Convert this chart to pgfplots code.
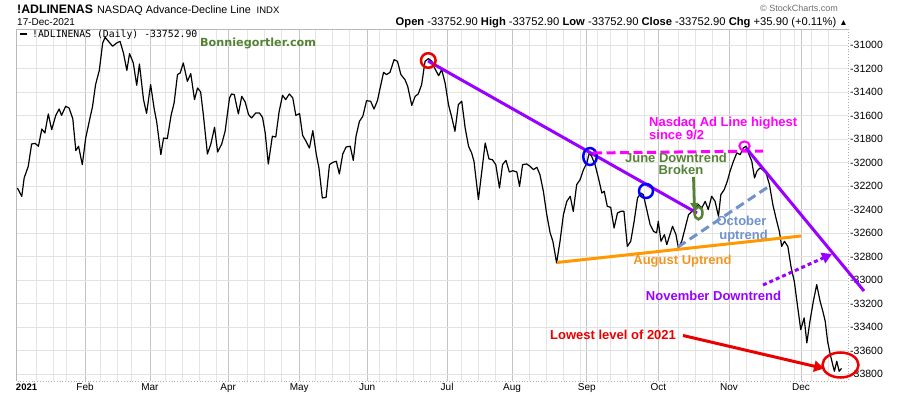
\documentclass[border=0pt]{standalone}
\usepackage{pgfplots}
\pgfplotsset{compat=1.18}
\usepackage{fontspec}
\setmainfont{Liberation Sans}
\newfontfamily\dejavu{DejaVu Sans}
\newfontfamily\monof{DejaVu Sans Mono}
\usetikzlibrary{arrows.meta}
\definecolor{vio}{RGB}{153,0,255}
\definecolor{mag}{RGB}{255,0,255}
\definecolor{grn}{RGB}{84,130,53}
\definecolor{sblue}{RGB}{112,146,205}
\definecolor{orng}{RGB}{255,153,0}
\definecolor{orngt}{RGB}{240,150,30}
\definecolor{rd}{RGB}{235,0,0}
\definecolor{majg}{RGB}{196,196,196}
\definecolor{ming}{RGB}{228,228,228}
\definecolor{ygrid}{RGB}{226,226,226}

\pgfplotstableread{
x y
-0.5 -32217
0.8 -32288
1.5 -32132
2.7 -32033
3.7 -31843
4.7 -31837
5.7 -31862
6.7 -31715
7.6 -31749
8.6 -31587
9.6 -31721
10.8 -31599
11.8 -31545
12.5 -31599
13.7 -31522
14.7 -31536
15.8 -31627
16.7 -31899
17.5 -31862
18.6 -32018
19.6 -31792
20.9 -31616
21.6 -31525
22.5 -31338
23.6 -31216
24.6 -30983
25.3 -30935
26.3 -30969
27.5 -31011
28.7 -30983
29.7 -30969
30.7 -31068
31.7 -31216
32.5 -31074
33.6 -31153
34.6 -31343
35.4 -31162
36.6 -31465
37.5 -31582
38.7 -31338
39.7 -31536
40.5 -31658
41.7 -31933
42.5 -31792
43.6 -31797
44.7 -31601
45.6 -31494
46.6 -31252
47.4 -31238
48.3 -31153
49.5 -31309
50.5 -31244
51.6 -31465
52.5 -31366
53.4 -31400
54.2 -31593
55.4 -31928
56.4 -31843
57.5 -31701
58.4 -31911
59.6 -31843
60.6 -31735
61.9 -31451
62.5 -31417
63.3 -31423
64.5 -31587
65.5 -31437
66.5 -31485
67.5 -31593
68.4 -31621
69.6 -31579
70.7 -31579
71.6 -31616
72.4 -31749
73.3 -32013
74.5 -31777
75.5 -31783
76.5 -31565
77.5 -31428
78.4 -31465
79.5 -31417
80.5 -31451
81.4 -31599
82.5 -31584
83.4 -31769
84.4 -31820
85.4 -31877
86.4 -31729
87.4 -31928
88.2 -32047
89.2 -32302
90.3 -32297
91.3 -32018
92.3 -31999
93.3 -31990
94.2 -32098
95.2 -31928
96.2 -31868
97.4 -31862
98.3 -31982
99.1 -31777
100.1 -31650
101.1 -31607
102.2 -31474
103.4 -31479
104.4 -31545
105.4 -31474
106.2 -31366
107.2 -31233
108.1 -31252
109.1 -31233
110.3 -31125
111.3 -31139
112.3 -31252
113.5 -31295
114.3 -31352
115.5 -31514
116.5 -31437
117.4 -31417
118.4 -31338
119.4 -31139
120.4 -31116
121.4 -31139
122.2 -31196
123.4 -31261
124.3 -31210
125.3 -31323
126.3 -31508
127.3 -31621
128.2 -31735
129.2 -31508
130.2 -31479
131.2 -31706
132.2 -31862
133.1 -31919
133.8 -31990
135.1 -32316
136.1 -32075
137.1 -31834
138.2 -31970
139.2 -31976
140.2 -32018
141.3 -32217
142.2 -32018
143.2 -31982
144.2 -32081
145.2 -32070
146.4 -32081
147.2 -32203
148.1 -32018
149.3 -32013
150.3 -32033
151.3 -32061
152.3 -32041
153.2 -32104
154.2 -32245
155.2 -32444
156.2 -32600
157.0 -32671
158.1 -32855
159.1 -32671
160.1 -32444
161.1 -32331
162.1 -32288
163.0 -32416
164.0 -32189
165.0 -32146
166.0 -32061
167.0 -32004
167.7 -31919
168.4 -31948
169.4 -32018
170.4 -32132
171.4 -32260
172.1 -32245
173.0 -32373
174.0 -32382
175.0 -32558
176.0 -32430
177.0 -32416
177.9 -32416
178.9 -32714
179.9 -32671
180.9 -32501
181.9 -32302
182.9 -32260
183.6 -32274
184.6 -32400
185.6 -32529
186.6 -32586
187.5 -32600
188.0 -32501
188.8 -32671
189.8 -32614
190.5 -32699
192.2 -32543
193.2 -32614
193.9 -32728
194.9 -32671
195.9 -32558
196.9 -32444
197.9 -32416
198.8 -32387
199.8 -32359
200.8 -32387
201.8 -32331
202.7 -32401
203.7 -32288
204.7 -32331
205.7 -32458
206.4 -32274
207.4 -32231
208.3 -32160
209.1 -32075
210.1 -31990
211.1 -31919
212.1 -31933
213.0 -31877
213.8 -31862
214.5 -31919
215.5 -31990
216.3 -32132
217.0 -32075
217.9 -32047
218.7 -32061
219.7 -32089
220.7 -32189
221.7 -32359
222.6 -32472
223.6 -32586
224.3 -32714
225.1 -32671
226.1 -32714
227.1 -32898
228.0 -33011
228.9 -33210
229.9 -33423
230.9 -33323
231.7 -33536
232.6 -33352
233.6 -33182
234.6 -33040
235.6 -33182
236.4 -33267
237.1 -33352
237.8 -33522
238.6 -33636
239.3 -33721
239.8 -33777
240.5 -33692
241.2 -33777
241.9 -33753
}\adline

\begin{document}
\begin{tikzpicture}
\useasboundingbox (0,0) rectangle (900pt,396pt);
\begin{axis}[
  at={(16pt,15pt)}, anchor=south west,
  scale only axis, width=832pt, height=352pt,
  xmin=-0.9, xmax=243.8, ymin=-33860, ymax=-30864,
  scaled y ticks=false, scaled x ticks=false,
  axis line style={draw=none},
  major tick length=0pt, minor tick length=0pt,
  xtick={-0.9,19.4,38.5,61.5,82.4,102.4,125.9,145,167,188,208.8,230},
  xticklabels={{\makebox[0pt][l]{\bfseries\fontsize{9.5}{11}\selectfont 2021}},Feb,Mar,Apr,May,Jun,Jul,Aug,Sep,Oct,Nov,Dec},
  minor xtick={5,10,14,24,29,33,43,48,53,58,67,72,77,87,92,97,106,111,116,121,130,135,140,150,155,160,165,170,174,179,184,194,199,204,214,219,224,228,233,238},
  ytick={-33800,-33600,-33400,-33200,-33000,-32800,-32600,-32400,-32200,-32000,-31800,-31600,-31400,-31200,-31000},
  yticklabels={-33800,-33600,-33400,-33200,-33000,-32800,-32600,-32400,-32200,-32000,-31800,-31600,-31400,-31200,-31000},
  xmajorgrids, xminorgrids, ymajorgrids,
  major x grid style={majg, line width=0.8pt},
  minor x grid style={ming, line width=0.7pt},
  major y grid style={ygrid, line width=0.7pt},
  yticklabel pos=right,
  yticklabel style={anchor=west, inner sep=0pt, xshift=2pt, font=\fontsize{10.5}{12}\selectfont},
  xticklabel style={anchor=north, inner sep=0pt, yshift=-2.5pt, font=\fontsize{10}{12}\selectfont},
]
\addplot[black, line width=1.2pt, line join=round] table[x=x,y=y] {\adline};
\end{axis}

\begin{scope}[x=1pt, y=-1pt, yshift=396pt]
  % frame
  \draw[gray!55, line width=0.8pt] (16,381) -- (16,29) -- (848,29);
  \draw[gray!65, line width=0.8pt, dotted] (848,29) -- (848,381) -- (16,381);
  % header
  \node[anchor=base west, inner sep=0pt, font=\bfseries\fontsize{12.3}{14}\selectfont] at (17,13.5) {!ADLINENAS};
  \node[anchor=base west, inner sep=0pt, font=\fontsize{10.8}{13}\selectfont] at (97,13.5) {NASDAQ Advance-Decline Line};
  \node[anchor=base west, inner sep=0pt, font=\fontsize{9.5}{11}\selectfont] at (256.5,13.5) {INDX};
  \node[anchor=base west, inner sep=0pt, font=\fontsize{10}{12}\selectfont] at (17,25.5) {17-Dec-2021};
  \node[anchor=base east, inner sep=0pt, font=\fontsize{11.2}{13}\selectfont] at (848,25.5)
    {\textbf{Open} -33752.90 \textbf{High} -33752.90 \textbf{Low} -33752.90 \textbf{Close} -33752.90 \textbf{Chg} +35.90 (+0.11\%) {\fontsize{8.5}{9}\selectfont ▲}};
  \node[anchor=base east, inner sep=0pt, text=gray!85!black, font=\fontsize{9}{10}\selectfont] at (838,11.5) {© StockCharts.com};
  % legend
  \draw[black, line width=2pt] (20,34.3) -- (27,34.3);
  \node[anchor=base west, inner sep=0pt, font=\monof\fontsize{9.8}{11}\selectfont] at (32,38) {!ADLINENAS (Daily) -33752.90};
  \node[anchor=base west, inner sep=0pt, text=grn, font=\dejavu\bfseries\fontsize{11.2}{13}\selectfont] at (200,46.5) {Bonniegortler.com};

  % June downtrend
  \draw[vio, line width=3pt] (428,61) -- (697,213);
  \draw[rd, line width=2.5pt] (428.3,60.5) circle (7.3);
  \draw[blue, line width=2.5pt] (590,156.5) ellipse (6.8 and 8.5);
  \draw[blue, line width=2.5pt] (646,191) circle (7);
  % highest since 9/2
  \draw[mag, line width=3pt, dash pattern=on 9pt off 4.5pt] (593,153) -- (763,151);
  \draw[mag, line width=2pt] (744.5,146) ellipse (5.2 and 4.6);
  \node[anchor=base west, inner sep=0pt, text=mag, font=\bfseries\fontsize{13}{15}\selectfont] at (649,126.5) {Nasdaq Ad Line highest};
  \node[anchor=base west, inner sep=0pt, text=mag, font=\bfseries\fontsize{13}{15}\selectfont] at (649,140) {since 9/2};
  % June downtrend broken
  \node[anchor=base, inner sep=0pt, text=grn, font=\bfseries\fontsize{13}{15}\selectfont] at (676,162.5) {June Downtrend};
  \node[anchor=base, inner sep=0pt, text=grn, font=\bfseries\fontsize{13}{15}\selectfont] at (681,174.5) {Broken};
  \draw[grn, line width=2.8pt, -{Triangle[length=7pt,width=8pt]}] (693.5,177) -- (694.5,210);
  \draw[grn, line width=2.5pt] (698.5,213) ellipse (4 and 6.3);
  % October uptrend
  \draw[sblue, line width=3pt, dash pattern=on 9pt off 5pt] (678,247) -- (768,187);
  \node[anchor=base, inner sep=0pt, text=sblue, font=\bfseries\fontsize{13}{15}\selectfont] at (741.5,225.5) {October};
  \node[anchor=base, inner sep=0pt, text=sblue, font=\bfseries\fontsize{13}{15}\selectfont] at (743.5,239.5) {uptrend};
  % August uptrend
  \draw[orng, line width=3pt] (557,262.5) -- (801,236);
  \node[anchor=base, inner sep=0pt, text=orngt, font=\bfseries\fontsize{13}{15}\selectfont] at (682.5,264.5) {August Uptrend};
  % November downtrend
  \draw[vio, line width=3pt] (746,148) -- (864,291);
  \draw[vio, line width=3pt, dash pattern=on 4pt off 3pt, -{Triangle[length=10pt,width=11pt]}] (763,285) -- (832,254);
  \node[anchor=base, inner sep=0pt, text=vio, font=\bfseries\fontsize{13}{15}\selectfont] at (713.5,301) {November Downtrend};
  % lowest level
  \node[anchor=base west, inner sep=0pt, text=rd, font=\bfseries\fontsize{13}{15}\selectfont] at (550,340) {Lowest level of 2021};
  \draw[rd, line width=3pt, -{Triangle[length=10pt,width=11pt]}] (683,335.5) -- (824,368.5);
  \draw[rd, line width=2.5pt] (840.5,365) ellipse (18 and 12.5);
\end{scope}
\end{tikzpicture}
\end{document}
